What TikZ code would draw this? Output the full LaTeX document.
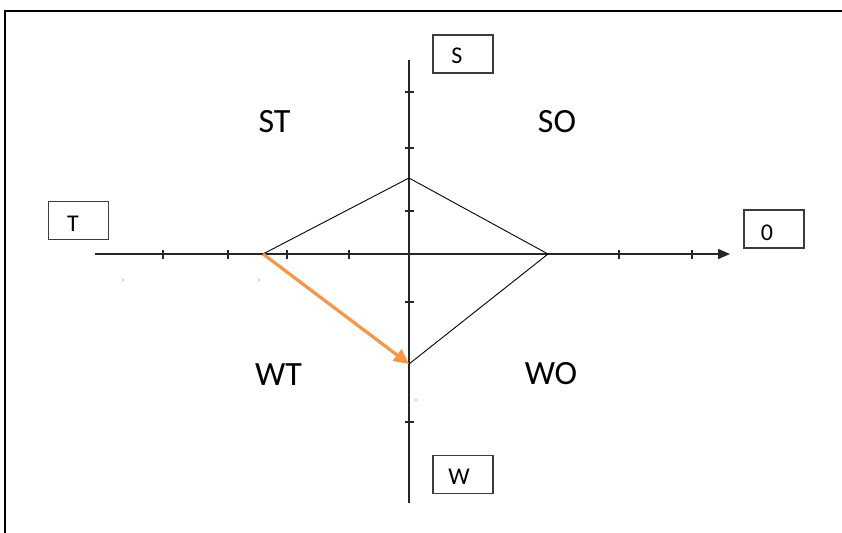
\documentclass[tikz,border=0pt]{standalone}
\usepackage{fontspec}
\setmainfont{Carlito}
\usetikzlibrary{arrows.meta}
\definecolor{arroworange}{RGB}{247,150,70}
\definecolor{boxgray}{RGB}{60,60,60}
\tikzset{
  axisline/.style={line width=1.4pt, draw=black!85},
  tickmark/.style={line width=1.2pt, draw=black!85},
  diamondline/.style={line width=0.9pt, draw=black},
  letterbox/.style={draw=boxgray, line width=1.3pt, minimum width=60pt, minimum height=38pt, inner sep=0pt},
  boxletter/.style={font=\fontsize{24}{26}\selectfont, inner sep=0pt},
  quadlabel/.style={font=\fontsize{34}{38}\selectfont, inner sep=0pt},
  straydot/.style={fill=black!40, draw=none, circle, inner sep=0pt, minimum size=1.6pt}
}
\begin{document}
\begin{tikzpicture}[x=1pt,y=-1pt]
\fill[white] (0,0) rectangle (842,532);
\useasboundingbox (0,0) rectangle (842,532);
\coordinate (fbl) at (5,545);
\coordinate (ftl) at (5,11);
\coordinate (ftr) at (842,11);
\draw[line width=1.5pt] (fbl) -- (ftl) -- (ftr);
% axis end points
\coordinate (hl) at (95,254);
\coordinate (hr) at (730,254);
\coordinate (vt) at (409,60);
\coordinate (vb) at (409,503);
\draw[axisline, -{Triangle[length=12pt,width=10pt]}] (hl) -- (hr);
\draw[axisline] (vt) -- (vb);
% ticks
\foreach \x in {163,228,287,349,619,692}
  \draw[tickmark] (\x,249.5) -- (\x,258.5);
\foreach \y in {92,148,211,302,422}
  \draw[tickmark] (404.5,\y) -- (413.5,\y);
% diamond vertices
\coordinate (pS) at (409,178);
\coordinate (pO) at (548,254);
\coordinate (pW) at (409,364);
\coordinate (pT) at (263,254);
\draw[diamondline] (pT) -- (pS) -- (pO) -- (pW);
\draw[arroworange, line width=3.2pt, -{Triangle[length=15pt,width=14pt]}] (pT) -- (pW);
% boxes
\node[letterbox] (bS) at (463,54) {};
\node[letterbox] (bT) at (78.5,220.5) {};
\node[letterbox] (bO) at (774,229) {};
\node[letterbox] (bW) at (463,474.5) {};
\node[boxletter] (tS) at (457,56) {S};
\node[boxletter] (tT) at (73,224) {T};
\node[boxletter] (tO) at (767,233) {0};
\node[boxletter] (tW) at (459,477) {W};
% quadrant labels
\node[quadlabel] (ST) at (274.5,121.5) {ST};
\node[quadlabel] (SO) at (557,121.5) {SO};
\node[quadlabel] (WT) at (278.5,374.5) {WT};
\node[quadlabel] (WO) at (551,374) {WO};
% stray dots
\node[straydot] (d1) at (123,280) {};
\node[straydot] (d2) at (259,280) {};
\node[straydot] (d3) at (416,400) {};
\end{tikzpicture}
\end{document}
